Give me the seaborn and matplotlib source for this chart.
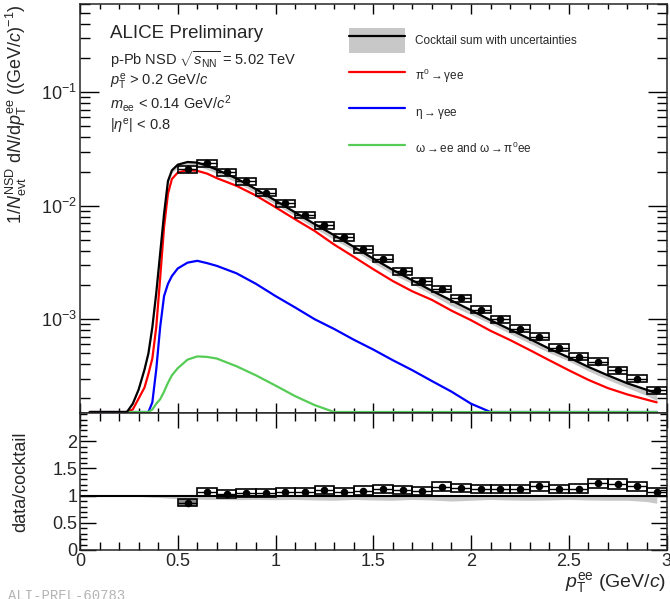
import numpy as np
import matplotlib
matplotlib.use("Agg")
import matplotlib.pyplot as plt
import seaborn as sns
from matplotlib.patches import Rectangle, Patch
from matplotlib.lines import Line2D
from matplotlib.ticker import LogLocator, MultipleLocator, FuncFormatter, NullFormatter

# ---------------------------------------------------------------- data
# measured dielectron yield in p-Pb, bin centres (GeV/c)
pt_bins = [0.55, 0.65, 0.75, 0.85, 0.95, 1.05, 1.15, 1.25, 1.35, 1.45,
           1.55, 1.65, 1.75, 1.85, 1.95, 2.05, 2.15, 2.25, 2.35, 2.45,
           2.55, 2.65, 2.75, 2.85, 2.95]
bin_half_width = 0.05
yield_data = [0.0210, 0.0237, 0.0197, 0.0164, 0.0130, 0.01052, 0.0083, 0.00673,
              0.00528, 0.00416, 0.00342, 0.00266, 0.00217, 0.00185, 0.00153,
              0.00121, 0.00100, 0.000826, 0.000703, 0.000562, 0.000466,
              0.000423, 0.000355, 0.000300, 0.000237]
syst_rel = [0.07, 0.07, 0.07, 0.07, 0.07, 0.07, 0.07, 0.07, 0.07, 0.07,
            0.07, 0.07, 0.07, 0.07, 0.07, 0.07, 0.07, 0.07, 0.07, 0.07,
            0.07, 0.07, 0.07, 0.07, 0.07]
ratio_data = [0.871, 1.063, 1.026, 1.050, 1.044, 1.068, 1.068, 1.099, 1.068,
              1.092, 1.123, 1.099, 1.081, 1.166, 1.142, 1.118, 1.123, 1.118,
              1.173, 1.123, 1.129, 1.228, 1.215, 1.173, 1.063]

# hadronic cocktail, evaluated on a common pT grid
pt_grid = [0.05, 0.24, 0.27, 0.30, 0.33, 0.35, 0.37, 0.39, 0.41, 0.43,
           0.45, 0.47, 0.50, 0.55, 0.60, 0.65, 0.70, 0.80, 0.90, 1.00,
           1.10, 1.20, 1.30, 1.40, 1.50, 1.60, 1.70, 1.80, 1.90, 2.00,
           2.10, 2.20, 2.30, 2.40, 2.50, 2.60, 2.70, 2.80, 2.90, 2.95]
cocktail_sum = [0, 0, 1.8e-4, 2.4e-4, 3.6e-4, 5.0e-4, 8.5e-4, 1.7e-3, 3.8e-3, 8.5e-3,
                0.0165, 0.0205, 0.0230, 0.0243, 0.0240, 0.0225, 0.0208, 0.0174, 0.0140, 0.0111,
                0.00875, 0.00690, 0.00550, 0.00435, 0.00342, 0.00272, 0.00220, 0.00178, 0.00146, 0.00120,
                0.00098, 0.00081, 0.00067, 0.00055, 0.00046, 0.00038, 0.00032, 0.000272, 0.000238, 0.000222]
pi0_dalitz = [0, 0, 1.6e-4, 2.0e-4, 2.5e-4, 3.3e-4, 4.5e-4, 8.5e-4, 2.3e-3, 6.5e-3,
              0.0128, 0.0172, 0.0196, 0.0206, 0.0203, 0.0192, 0.0175, 0.0150, 0.0123, 0.0097,
              0.0076, 0.0060, 0.00455, 0.00355, 0.00276, 0.00217, 0.00176, 0.00148, 0.00119, 0.00098,
              0.00079, 0.000655, 0.000535, 0.000435, 0.000355, 0.000292, 0.000247, 0.000217, 0.000195, 0.000185]
eta_dalitz = [0, 0, 0, 0, 0, 1.5e-4, 1.85e-4, 3.6e-4, 8.5e-4, 1.6e-3,
              2.05e-3, 2.4e-3, 2.8e-3, 3.15e-3, 3.27e-3, 3.12e-3, 2.95e-3, 2.54e-3, 2.05e-3, 1.6e-3,
              1.27e-3, 1.0e-3, 8.2e-4, 6.6e-4, 5.4e-4, 4.35e-4, 3.55e-4, 2.85e-4, 2.3e-4, 1.8e-4,
              1.45e-4, 0, 0, 0, 0, 0, 0, 0, 0, 0]
omega_decays = [0, 0, 0, 0, 0, 0, 1.6e-4, 1.8e-4, 1.97e-4, 2.3e-4,
                2.75e-4, 3.2e-4, 3.7e-4, 4.4e-4, 4.7e-4, 4.65e-4, 4.5e-4, 3.85e-4, 3.2e-4, 2.6e-4,
                2.1e-4, 1.75e-4, 1.52e-4, 0, 0, 0, 0, 0, 0, 0,
                0, 0, 0, 0, 0, 0, 0, 0, 0, 0]
# relative cocktail uncertainty (lower / upper edge)
band_lo = [1.0, 1.0, 0.99, 0.985, 0.98, 0.975, 0.97, 0.97, 0.965, 0.96,
           0.955, 0.95, 0.945, 0.94, 0.935, 0.93, 0.93, 0.925, 0.93, 0.925,
           0.93, 0.92, 0.915, 0.93, 0.92, 0.915, 0.93, 0.92, 0.90, 0.915,
           0.93, 0.92, 0.915, 0.92, 0.93, 0.92, 0.915, 0.915, 0.89, 0.86]
band_hi = [1.0, 1.0, 1.01, 1.01, 1.01, 1.01, 1.01, 1.01, 1.01, 1.01,
           1.015, 1.015, 1.015, 1.015, 1.015, 1.015, 1.015, 1.015, 1.015, 1.015,
           1.015, 1.015, 1.015, 1.015, 1.015, 1.015, 1.015, 1.015, 1.015, 1.015,
           1.015, 1.015, 1.015, 1.015, 1.015, 1.02, 1.015, 1.015, 1.01, 1.0]

x_ticks = [0, 0.5, 1, 1.5, 2, 2.5, 3]
ratio_ticks = [0, 0.5, 1, 1.5, 2]

# ---------------------------------------------------------------- style
sns.set_theme(style="ticks")
plt.rcParams["font.family"] = ["Liberation Sans", "DejaVu Sans"]
plt.rcParams["mathtext.fontset"] = "custom"
plt.rcParams["mathtext.rm"] = "Liberation Sans"
plt.rcParams["mathtext.it"] = "Liberation Sans:italic"
plt.rcParams["mathtext.bf"] = "Liberation Sans:bold"
plt.rcParams["mathtext.sf"] = "Liberation Sans"
plt.rcParams["axes.linewidth"] = 1.1

W, H = 670, 599
fig = plt.figure(figsize=(W / 100, H / 100), dpi=100)
x0, x1 = 80, 666.5
ax1 = fig.add_axes([x0 / W, 1 - 413 / H, (x1 - x0) / W, 409 / H])
ax2 = fig.add_axes([x0 / W, 1 - 550 / H, (x1 - x0) / W, 137 / H])

YMIN, YMAX = 1.49e-4, 0.6
BAND = "#c8c8c8"
RED, BLUE, GREEN = "#ff0000", "#0000ff", "#55cc55"

pt_grid_a = np.array(pt_grid)
ck = np.array(cocktail_sum)
lo = np.array(band_lo)
hi = np.array(band_hi)

# ---------------------------------------------------------------- top panel
ax1.set_yscale("log")
ax1.fill_between(pt_grid_a, np.clip(ck * lo, YMIN, None), np.clip(ck * hi, YMIN, None),
                 color=BAND, lw=0, zorder=1)
for curve, col, zo in [(pi0_dalitz, RED, 2), (eta_dalitz, BLUE, 2),
                       (omega_decays, GREEN, 2), (cocktail_sum, "black", 3)]:
    sns.lineplot(x=pt_grid, y=np.clip(np.array(curve), YMIN * 1.02, None), color=col,
                 lw=1.6, sort=False, estimator=None, ax=ax1, zorder=zo)

for x, y, s in zip(pt_bins, yield_data, syst_rel):
    ax1.add_patch(Rectangle((x - bin_half_width, y * (1 - s)), 2 * bin_half_width,
                            2 * s * y, fill=False, ec="black", lw=1.2, zorder=4))
ax1.errorbar(pt_bins, yield_data, xerr=bin_half_width, fmt="none", ecolor="black",
             elinewidth=1.0, zorder=5)
sns.scatterplot(x=pt_bins, y=yield_data, color="black", s=30, linewidth=0,
                ax=ax1, zorder=6)

ax1.set_xlim(0, 3)
ax1.set_ylim(YMIN, YMAX)
ax1.xaxis.set_major_locator(MultipleLocator(0.5))
ax1.xaxis.set_minor_locator(MultipleLocator(0.1))
ax1.xaxis.set_major_formatter(NullFormatter())
ax1.yaxis.set_major_locator(LogLocator(base=10, numticks=10))
ax1.yaxis.set_minor_locator(LogLocator(base=10, subs=np.arange(2, 10), numticks=20))
ax1.yaxis.set_minor_formatter(NullFormatter())
ax1.tick_params(axis="both", which="both", direction="in", top=True, right=True,
                labelsize=13, width=1.0, color="black")
ax1.tick_params(axis="x", which="major", length=7.2)
ax1.tick_params(axis="x", which="minor", length=3.6)
ax1.tick_params(axis="y", which="major", length=13.5, pad=2)
ax1.tick_params(axis="y", which="minor", length=7.0)
ax1.set_ylabel(r"1/$N_{\rm evt}^{\rm NSD}$ d$N$/d$p_{\rm T}^{\rm ee}$ ((GeV/$c$)$^{-1}$)",
               fontsize=13, loc="top")
ax1.yaxis.set_label_coords(-0.087, 1.0)

# ---------------------------------------------------------------- ratio panel
ax2.fill_between(pt_grid_a, lo, hi, color=BAND, lw=0, zorder=1)
ax2.axhline(1.0, color="black", lw=1.5, zorder=2)
for i, (x, r, s) in enumerate(zip(pt_bins, ratio_data, syst_rel)):
    ax2.add_patch(Rectangle((x - bin_half_width, r * (1 - s)), 2 * bin_half_width,
                            2 * s * r, fill=(i == 0), fc="#8c8c8c", ec="black",
                            lw=1.2, zorder=4))
ax2.errorbar(pt_bins, ratio_data, xerr=bin_half_width, fmt="none", ecolor="black",
             elinewidth=1.0, zorder=5)
sns.scatterplot(x=pt_bins, y=ratio_data, color="black", s=30, linewidth=0,
                ax=ax2, zorder=6)

ax2.set_xlim(0, 3)
ax2.set_ylim(0, 2.52)
ax2.set_xticks(x_ticks)
ax2.xaxis.set_minor_locator(MultipleLocator(0.1))
ax2.set_yticks(ratio_ticks)
ax2.yaxis.set_minor_locator(MultipleLocator(0.1))
fmt = FuncFormatter(lambda v, p: f"{v:g}")
ax2.xaxis.set_major_formatter(fmt)
ax2.yaxis.set_major_formatter(fmt)
ax2.tick_params(axis="both", which="both", direction="in", top=True, right=True,
                labelsize=13, width=1.0, color="black")
ax2.tick_params(axis="x", which="major", length=11, pad=2)
ax2.tick_params(axis="x", which="minor", length=5.5)
ax2.tick_params(axis="y", which="major", length=11.5, pad=2)
ax2.tick_params(axis="y", which="minor", length=5.0)
ax2.set_ylabel("data/cocktail", fontsize=13)
ax2.yaxis.set_label_coords(-0.087, 0.5)
ax2.set_xlabel("")
fig.text(666 / W, 1 - 587 / H, r"$p_{\rm T}^{\rm ee}$ (GeV/$c$)", fontsize=14,
         ha="right", va="baseline")

# ---------------------------------------------------------------- labels
def ftext(px, py, s, size, **kw):
    fig.text(px / W, 1 - py / H, s, fontsize=size, va="baseline", **kw)

ftext(110, 37.5, "ALICE Preliminary", 13.5)
ftext(110, 65, r"p-Pb NSD $\sqrt{s_{\rm NN}}$ = 5.02 TeV", 10.5)
ftext(110, 86, r"$p_{\rm T}^{\rm e}$ > 0.2 GeV/$c$", 10.5)
ftext(110, 108.5, r"$m_{\rm ee}$ < 0.14 GeV/$c^{2}$", 10.5)
ftext(110, 131, r"|$\eta^{\rm e}$| < 0.8", 10.5)
ftext(8, 600, "ALI-PREL-60783", 10, color="#b4b4b4", family="Liberation Mono")

handles = [(Patch(fc=BAND, ec="none"), Line2D([], [], color="black", lw=1.6)),
           Line2D([], [], color=RED, lw=1.6),
           Line2D([], [], color=BLUE, lw=1.6),
           Line2D([], [], color=GREEN, lw=1.6)]
labels = ["Cocktail sum with uncertainties",
          r"$\mathrm{\pi^{0}\rightarrow\gamma}$ee",
          r"$\mathrm{\eta\rightarrow\gamma}$ee",
          r"$\mathrm{\omega\rightarrow}$ee and $\mathrm{\omega\rightarrow\pi^{0}}$ee"]
fig.legend(handles, labels, loc="upper left", bbox_to_anchor=(349 / W, 1 - 28 / H),
           frameon=False, fontsize=8.5, handlelength=4.75, handleheight=2.88,
           handletextpad=0.85, labelspacing=0.95, borderpad=0, borderaxespad=0)

fig.savefig("out.png", dpi=100)
